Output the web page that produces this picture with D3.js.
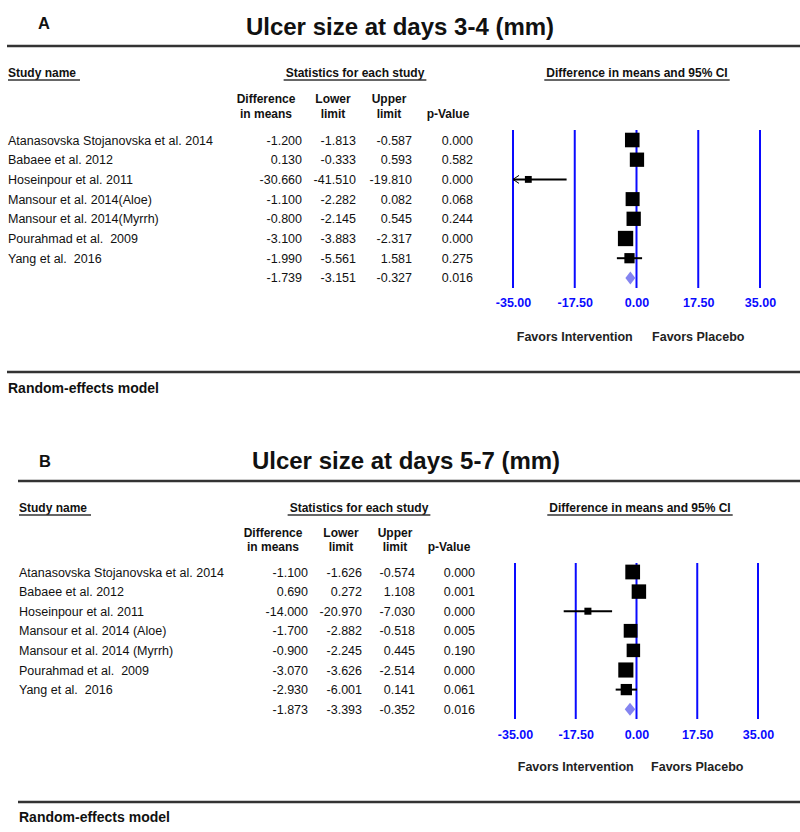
<!DOCTYPE html>
<html>
<head>
<meta charset="utf-8">
<script src="https://cdn.jsdelivr.net/npm/d3@7"></script>
<style>
  html, body { margin: 0; padding: 0; background: #fff; }
  svg { display: block; font-family: "Liberation Sans", Arial, sans-serif; }
  svg text { white-space: pre; }
</style>
</head>
<body>
<svg id="chart" width="800" height="832"></svg>
<script>
// ---------- DATA ----------
const studiesA = ["Atanasovska Stojanovska et al. 2014", "Babaee et al. 2012", "Hoseinpour et al. 2011",
  "Mansour et al. 2014(Aloe)", "Mansour et al. 2014(Myrrh)", "Pourahmad et al.  2009", "Yang et al.  2016"];
const diffA  = [-1.200, 0.130, -30.660, -1.100, -0.800, -3.100, -1.990];
const lowerA = [-1.813, -0.333, -41.510, -2.282, -2.145, -3.883, -5.561];
const upperA = [-0.587, 0.593, -19.810, 0.082, 0.545, -2.317, 1.581];
const pA     = [0.000, 0.582, 0.000, 0.068, 0.244, 0.000, 0.275];
const weightA = [17.7, 17.0, 3.9, 16.3, 17.0, 19.5, 8.7];   // relative weights (estimated from square sizes)
const summaryA = [-1.739, -3.151, -0.327, 0.016];           // diff, lower, upper, p

const studiesB = ["Atanasovska Stojanovska et al. 2014", "Babaee et al. 2012", "Hoseinpour et al. 2011",
  "Mansour et al. 2014 (Aloe)", "Mansour et al. 2014 (Myrrh)", "Pourahmad et al.  2009", "Yang et al.  2016"];
const diffB  = [-1.100, 0.690, -14.000, -1.700, -0.900, -3.070, -2.930];
const lowerB = [-1.626, 0.272, -20.970, -2.882, -2.245, -3.626, -6.001];
const upperB = [-0.574, 1.108, -7.030, -0.518, 0.445, -2.514, 0.141];
const pB     = [0.000, 0.001, 0.000, 0.005, 0.190, 0.000, 0.061];
const weightB = [18.1, 17.4, 4.1, 15.8, 15.1, 19.0, 10.6];
const summaryB = [-1.873, -3.393, -0.352, 0.016];

const axisTicks = [-35, -17.5, 0, 17.5, 35];
const axisDomain = [-35, 35];
const titles = ["Ulcer size at days 3-4 (mm)", "Ulcer size at days 5-7 (mm)"];
const panelLabels = ["A", "B"];
const colHeads = [["Difference", "in means"], ["Lower", "limit"], ["Upper", "limit"], ["", "p-Value"]];

// ---------- LAYOUT ----------
const layouts = [
  { labelX: 38, labelY: 29, titleX: 400, titleY: 35, ruleY: 46, ruleX0: 7, nameX: 8,
    headY: 77, underY: 80, statsCx: 355, ciCx: 637, colY1: 103, colY2: 118,
    colRight: [302, 356, 412, 473], colCx: [266, 333, 389, 448],
    rowY0: 140, rowStep: 19.7, fx0: 513, fx1: 760, lineTop: 130, lineBot: 288,
    tickY: 307, favY: 341, botRuleY: 372, remY: 393 },
  { labelX: 39, labelY: 467, titleX: 406, titleY: 469, ruleY: 481, ruleX0: 18, nameX: 19,
    headY: 512, underY: 515, statsCx: 359, ciCx: 640, colY1: 537, colY2: 551,
    colRight: [308, 362, 415, 475], colCx: [273, 341, 395, 449],
    rowY0: 572, rowStep: 19.6, fx0: 515, fx1: 758, lineTop: 563, lineBot: 719,
    tickY: 739, favY: 771, botRuleY: 802, remY: 822 }
];

const panelData = [
  { studies: studiesA, diff: diffA, lower: lowerA, upper: upperA, p: pA, w: weightA, sum: summaryA },
  { studies: studiesB, diff: diffB, lower: lowerB, upper: upperB, p: pB, w: weightB, sum: summaryB }
];

const svg = d3.select("#chart");
const f3 = d3.format(".3f");
const fmt = v => f3(v).replace("−", "-");
const size = d3.scaleSqrt().domain([0, 20]).range([0, 15.5]);
const BLUE = "#0a0aff";
const TXT = "#111";

panelData.forEach((d, i) => {
  const L = layouts[i];
  const g = svg.append("g");

  // label and title
  g.append("text").attr("x", L.labelX).attr("y", L.labelY).attr("font-size", 16.5)
    .attr("font-weight", "bold").attr("fill", TXT).text(panelLabels[i]);
  g.append("text").attr("x", L.titleX).attr("y", L.titleY).attr("font-size", 24)
    .attr("font-weight", "bold").attr("text-anchor", "middle").attr("fill", TXT).text(titles[i]);

  // rules
  g.append("line").attr("x1", L.ruleX0).attr("x2", 800).attr("y1", L.ruleY).attr("y2", L.ruleY)
    .attr("stroke", "#333").attr("stroke-width", 2.5);
  g.append("line").attr("x1", L.ruleX0).attr("x2", 800).attr("y1", L.botRuleY).attr("y2", L.botRuleY)
    .attr("stroke", "#333").attr("stroke-width", 2.5);
  g.append("text").attr("x", L.nameX).attr("y", L.remY).attr("font-size", 14)
    .attr("font-weight", "bold").attr("fill", TXT).text("Random-effects model");

  // section headings with underline
  const heads = [
    { t: "Study name", x: L.nameX, anchor: "start" },
    { t: "Statistics for each study", x: L.statsCx, anchor: "middle" },
    { t: "Difference in means and 95% CI", x: L.ciCx, anchor: "middle" }
  ];
  heads.forEach(h => {
    const t = g.append("text").attr("x", h.x).attr("y", L.headY).attr("font-size", 12)
      .attr("font-weight", "bold").attr("text-anchor", h.anchor).attr("fill", TXT).text(h.t);
    const w = t.node().getComputedTextLength();
    let x1, x2;
    if (h.anchor === "start") { x1 = h.x; x2 = h.x + w + 4; }
    else { x1 = h.x - w / 2 - 2; x2 = h.x + w / 2 + 2; }
    g.append("line").attr("x1", x1).attr("x2", x2).attr("y1", L.underY).attr("y2", L.underY)
      .attr("stroke", "#333").attr("stroke-width", 1.3);
  });

  // column headers
  colHeads.forEach((c, j) => {
    [L.colY1, L.colY2].forEach((yy, k) => {
      if (!c[k]) return;
      g.append("text").attr("x", L.colCx[j]).attr("y", yy).attr("font-size", 12)
        .attr("font-weight", "bold").attr("text-anchor", "middle").attr("fill", TXT).text(c[k]);
    });
  });

  // rows
  const n = d.studies.length;
  const rowY = k => L.rowY0 + k * L.rowStep;
  const cols = [d.diff, d.lower, d.upper, d.p];
  for (let k = 0; k < n; k++) {
    g.append("text").attr("x", L.nameX).attr("y", rowY(k) + 4.5).attr("font-size", 12.5)
      .attr("fill", TXT).text(d.studies[k]);
    cols.forEach((arr, j) => {
      g.append("text").attr("x", L.colRight[j]).attr("y", rowY(k) + 4.5).attr("font-size", 12.5)
        .attr("text-anchor", "end").attr("fill", TXT).text(fmt(arr[k]));
    });
  }
  d.sum.forEach((v, j) => {
    g.append("text").attr("x", L.colRight[j]).attr("y", rowY(n) + 4.5).attr("font-size", 12.5)
      .attr("text-anchor", "end").attr("fill", TXT).text(fmt(v));
  });

  // forest plot
  const x = d3.scaleLinear().domain(axisDomain).range([L.fx0, L.fx1]);
  g.selectAll(".vline").data(axisTicks).enter().append("line")
    .attr("x1", v => x(v)).attr("x2", v => x(v)).attr("y1", L.lineTop).attr("y2", L.lineBot)
    .attr("stroke", BLUE).attr("stroke-width", 2);

  const axis = d3.axisBottom(x).tickValues(axisTicks).tickFormat(v => d3.format(".2f")(v).replace("−", "-")).tickSize(0).tickPadding(0);
  const ag = g.append("g").attr("transform", `translate(0,${L.tickY})`).call(axis);
  ag.select(".domain").remove();
  ag.selectAll("text").attr("dy", 0).attr("y", 0).attr("font-size", 12.5).attr("font-weight", "bold")
    .attr("fill", BLUE).attr("font-family", '"Liberation Sans", Arial, sans-serif');

  g.append("text").attr("x", x(-17.5)).attr("y", L.favY).attr("font-size", 12.5).attr("font-weight", "bold")
    .attr("text-anchor", "middle").attr("fill", "#222").text("Favors Intervention");
  g.append("text").attr("x", x(17.5)).attr("y", L.favY).attr("font-size", 12.5).attr("font-weight", "bold")
    .attr("text-anchor", "middle").attr("fill", "#222").text("Favors Placebo");

  for (let k = 0; k < n; k++) {
    const y = rowY(k);
    const lo = Math.max(d.lower[k], axisDomain[0]);
    const hi = Math.min(d.upper[k], axisDomain[1]);
    g.append("line").attr("x1", x(lo)).attr("x2", x(hi)).attr("y1", y).attr("y2", y)
      .attr("stroke", "#000").attr("stroke-width", 2);
    if (d.lower[k] < axisDomain[0]) {
      const ax = x(axisDomain[0]);
      g.append("path").attr("d", `M${ax + 6},${y - 4}L${ax},${y}L${ax + 6},${y + 4}`)
        .attr("fill", "none").attr("stroke", "#000").attr("stroke-width", 1);
    }
    const s = size(d.w[k]);
    g.append("rect").attr("x", x(d.diff[k]) - s / 2).attr("y", y - s / 2)
      .attr("width", s).attr("height", s).attr("fill", "#000");
  }
  const ys = rowY(n);
  g.append("path")
    .attr("d", `M${x(d.sum[1])},${ys}L${x(d.sum[0])},${ys - 6.5}L${x(d.sum[2])},${ys}L${x(d.sum[0])},${ys + 6.5}Z`)
    .attr("fill", "#8484f0");
});
</script>
</body>
</html>
